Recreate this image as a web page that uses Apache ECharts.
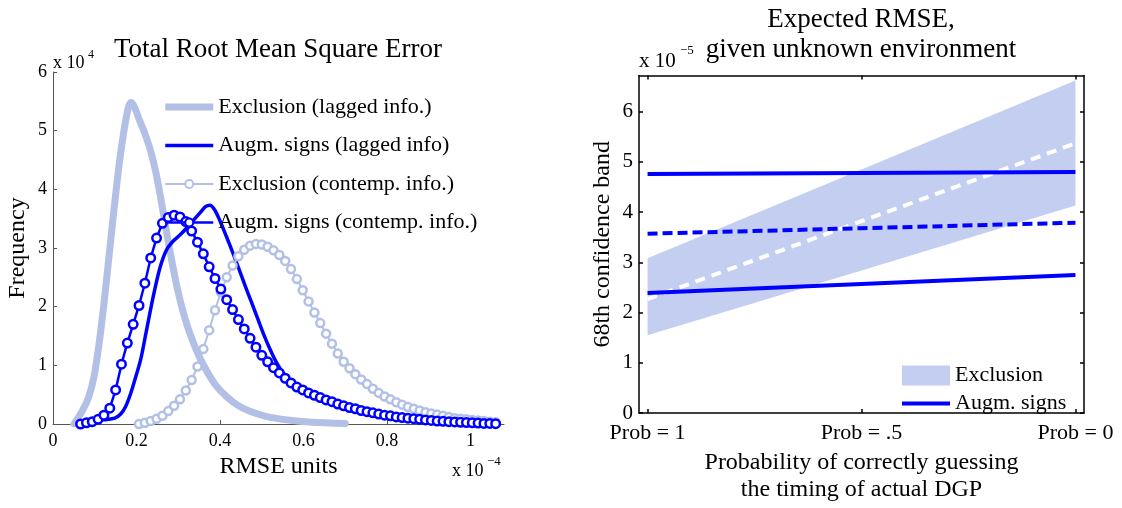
<!DOCTYPE html>
<html>
<head>
<meta charset="utf-8">
<title>RMSE distributions</title>
<script src="https://cdn.jsdelivr.net/npm/echarts@6.0.0/dist/echarts.min.js"></script>
<style>
  html, body { margin: 0; padding: 0; background: #fff; }
  #chart { width: 1122px; height: 508px; }
</style>
</head>
<body>
<div id="chart"></div>
<script>
// ---- left panel: frequency (x 1e4) of RMSE units (x 1e-4) ----
var rmseTicks = [0, 0.2, 0.4, 0.6, 0.8, 1];
var freqTicks = [0, 1, 2, 3, 4, 5, 6];

var exclLagX = [0.050,0.060,0.072,0.085,0.098,0.110,0.122,0.134,0.146,0.158,0.170,0.180,0.186,0.194,0.206,0.220,0.234,0.246,0.258,0.270,0.284,0.298,0.314,0.330,0.350,0.370,0.390,0.415,0.440,0.470,0.510,0.560,0.620,0.700];
var exclLagY = [0.00,0.10,0.25,0.45,0.80,1.35,2.05,2.85,3.65,4.40,5.00,5.38,5.48,5.42,5.20,4.95,4.65,4.30,3.85,3.35,2.80,2.30,1.85,1.50,1.15,0.88,0.66,0.47,0.33,0.22,0.13,0.07,0.03,0.01];

var augLagX = [0.057,0.090,0.120,0.148,0.162,0.174,0.186,0.198,0.210,0.224,0.240,0.256,0.272,0.288,0.304,0.320,0.336,0.352,0.366,0.376,0.388,0.400,0.415,0.430,0.445,0.460,0.475,0.490,0.505,0.520,0.535,0.550,0.565,0.585,0.620,0.670,0.730,0.790,0.850,0.910,0.980,1.050];
var augLagY = [0.00,0.03,0.07,0.10,0.17,0.30,0.52,0.80,1.10,1.60,2.17,2.66,2.97,3.12,3.22,3.34,3.47,3.60,3.71,3.73,3.64,3.46,3.20,2.93,2.65,2.36,2.08,1.80,1.52,1.27,1.05,0.88,0.76,0.64,0.50,0.37,0.25,0.16,0.10,0.06,0.03,0.01];

// x grid of the two marker curves (exclusion one starts at contempX[10])
var contempX = [0.066,0.080,0.094,0.108,0.122,0.136,0.150,0.164,0.178,0.192,
  0.206,0.220,0.234,0.248,0.262,0.276,0.290,0.304,0.318,0.332,
  0.346,0.360,0.374,0.388,0.402,0.416,0.430,0.444,0.458,0.472,
  0.486,0.500,0.514,0.528,0.542,0.556,0.570,0.584,0.598,0.612,
  0.626,0.640,0.654,0.668,0.682,0.696,0.710,0.724,0.738,0.752,
  0.766,0.780,0.794,0.808,0.822,0.836,0.850,0.864,0.878,0.892,
  0.906,0.920,0.934,0.948,0.962,0.976,0.990,1.004,1.018,1.032,
  1.046,1.060];
var augContempY = [0.00,0.02,0.04,0.08,0.15,0.27,0.58,1.02,1.38,1.70,
  2.02,2.40,2.83,3.17,3.42,3.52,3.56,3.53,3.45,3.29,
  3.10,2.90,2.68,2.48,2.30,2.12,1.95,1.78,1.62,1.46,
  1.31,1.17,1.06,0.96,0.87,0.78,0.70,0.63,0.58,0.53,
  0.49,0.45,0.41,0.38,0.34,0.31,0.28,0.26,0.23,0.21,
  0.19,0.17,0.15,0.14,0.12,0.11,0.10,0.09,0.08,0.07,
  0.06,0.05,0.045,0.04,0.035,0.03,0.025,0.02,0.015,0.01,
  0.01,0.005];
var exclContempY = [0.00,0.02,0.05,0.09,0.14,0.22,0.31,0.42,0.57,0.75,
  0.98,1.28,1.60,1.94,2.25,2.50,2.70,2.86,2.97,3.04,
  3.07,3.06,3.02,2.96,2.88,2.78,2.64,2.47,2.28,2.09,
  1.90,1.72,1.54,1.37,1.20,1.06,0.95,0.85,0.76,0.68,
  0.60,0.53,0.47,0.42,0.37,0.33,0.29,0.26,0.23,0.20,
  0.18,0.16,0.14,0.12,0.10,0.09,0.08,0.07,0.06,0.05,
  0.04,0.03];

// ---- right panel: 68th confidence band (x 1e-5) ----
var probLabels = ['Prob = 1', 'Prob = .5', 'Prob = 0'];
var probPos = [0, 0.5, 1];
var bandTicks = [0, 1, 2, 3, 4, 5, 6];
var exclLower = [1.55, 2.84, 4.13];
var exclUpper = [3.08, 4.85, 6.62];
var exclMean = [2.27, 3.82, 5.37];
var augLower = [2.39, 2.57, 2.75];
var augUpper = [4.76, 4.78, 4.80];
var augMean = [3.57, 3.68, 3.79];

var serif = "'Liberation Serif', 'Times New Roman', serif";
var lightBlue = '#b3c0e6';
var bandColor = '#c4cef1';
var blue = '#0000ff';

function zip(xs, ys) {
  return ys.map(function (y, i) { return [xs[i], y]; });
}

var myChart = echarts.init(document.getElementById('chart'));

// axis with inward ticks, no split lines; labels optional
function tickAxis(color, width, ticks, labelSize, margin, showLabel, formatter) {
  var label = { show: showLabel, customValues: ticks, margin: margin, color: '#000', fontFamily: serif, fontSize: labelSize };
  if (formatter) label.formatter = formatter;
  return {
    axisLine: { show: true, onZero: false, lineStyle: { color: color, width: width } },
    axisTick: { show: true, inside: true, length: 4, customValues: ticks, lineStyle: { color: color, width: width } },
    axisLabel: label,
    splitLine: { show: false }
  };
}

function probName(v) {
  var i = probPos.indexOf(v);
  return i >= 0 ? probLabels[i] : '';
}

var nameStyle = { color: '#000', fontFamily: serif, fontSize: 24, verticalAlign: 'middle' };

var option = {
  animation: false,
  backgroundColor: '#fff',
  title: [
    {
      text: 'Total Root Mean Square Error',
      left: 278, top: 36, textAlign: 'center', padding: 0,
      textStyle: { color: '#000', fontFamily: serif, fontSize: 27, fontWeight: 'normal' }
    },
    {
      text: 'Expected RMSE,\ngiven unknown environment',
      left: 861, top: 5, textAlign: 'center', padding: 0,
      textStyle: { color: '#000', fontFamily: serif, fontSize: 27, fontWeight: 'normal', lineHeight: 30 }
    }
  ],
  legend: [
    {
      orient: 'vertical', left: 164, top: 96, padding: 0,
      itemWidth: 48, itemHeight: 10, itemGap: 16.5,
      selectedMode: false,
      textStyle: { color: '#000', fontFamily: serif, fontSize: 22 },
      data: [
        { name: 'Exclusion (lagged info.)', icon: 'path://M0,0H48V7H0Z' },
        { name: 'Augm. signs (lagged info)', icon: 'path://M0,0H48V3.5H0Z' },
        { name: 'Exclusion (contemp. info.)', lineStyle: { width: 2 } },
        { name: 'Augm. signs (contemp. info.)', lineStyle: { width: 2.5 } }
      ]
    },
    {
      orient: 'vertical', left: 902, top: 364.5, padding: 0,
      itemWidth: 48, itemHeight: 20, itemGap: 6,
      selectedMode: false,
      textStyle: { color: '#000', fontFamily: serif, fontSize: 22 },
      data: [
        { name: 'Exclusion', icon: 'rect', itemStyle: { color: bandColor } },
        { name: 'Augm. signs', icon: 'path://M0,0H48V4H0Z' }
      ]
    }
  ],
  grid: [
    { left: 53, top: 72, width: 451, height: 352 },
    { left: 639, top: 75.5, width: 445, height: 348.5 }
  ],
  xAxis: [
    Object.assign({
      gridIndex: 0, type: 'value', min: 0, max: 1.08,
      name: 'RMSE units', nameLocation: 'middle', nameGap: 39, nameTextStyle: nameStyle
    }, tickAxis('#555', 1, rmseTicks, 18, 8, true)),
    Object.assign({
      gridIndex: 1, type: 'value', min: -0.02, max: 1.02,
      name: 'Probability of correctly guessing\nthe timing of actual DGP',
      nameLocation: 'middle', nameGap: 56,
      nameTextStyle: Object.assign({ lineHeight: 27 }, nameStyle)
    }, tickAxis('#000', 1.5, probPos, 22, 9, true, probName)),
    Object.assign({
      gridIndex: 1, type: 'value', min: -0.02, max: 1.02, position: 'top'
    }, tickAxis('#000', 1.5, probPos, 22, 9, false))
  ],
  yAxis: [
    Object.assign({
      gridIndex: 0, type: 'value', min: 0, max: 6,
      name: 'Frequency', nameLocation: 'middle', nameGap: 35, nameTextStyle: nameStyle
    }, tickAxis('#555', 1, freqTicks, 18, 6, true)),
    Object.assign({
      gridIndex: 1, type: 'value', min: 0, max: 6.72,
      name: '68th confidence band', nameLocation: 'middle', nameGap: 36, nameTextStyle: nameStyle
    }, tickAxis('#000', 1.5, bandTicks, 21, 6, true)),
    Object.assign({
      gridIndex: 1, type: 'value', min: 0, max: 6.72, position: 'right'
    }, tickAxis('#000', 1.5, bandTicks, 21, 6, false))
  ],
  series: [
    {
      name: 'Exclusion (lagged info.)', type: 'line', xAxisIndex: 0, yAxisIndex: 0,
      data: zip(exclLagX, exclLagY), symbol: 'none', smooth: 0.3,
      lineStyle: { color: lightBlue, width: 7, cap: 'round', join: 'round' },
      itemStyle: { color: lightBlue }
    },
    {
      name: 'Augm. signs (lagged info)', type: 'line', xAxisIndex: 0, yAxisIndex: 0,
      data: zip(augLagX, augLagY), symbol: 'none', smooth: 0.3,
      lineStyle: { color: blue, width: 3.5, join: 'round' },
      itemStyle: { color: blue }
    },
    {
      name: 'Exclusion (contemp. info.)', type: 'line', xAxisIndex: 0, yAxisIndex: 0,
      data: zip(contempX.slice(10), exclContempY),
      symbol: 'circle', symbolSize: 8, showAllSymbol: true,
      lineStyle: { color: lightBlue, width: 2 },
      itemStyle: { color: '#fff', borderColor: lightBlue, borderWidth: 2.5 }
    },
    {
      name: 'Augm. signs (contemp. info.)', type: 'line', xAxisIndex: 0, yAxisIndex: 0,
      data: zip(contempX, augContempY),
      symbol: 'circle', symbolSize: 8.5, showAllSymbol: true,
      lineStyle: { color: blue, width: 2.5 },
      itemStyle: { color: '#fff', borderColor: blue, borderWidth: 2.5 }
    },
    {
      name: 'Exclusion', type: 'custom', xAxisIndex: 1, yAxisIndex: 1,
      data: [[0]],
      itemStyle: { color: bandColor },
      renderItem: function (params, api) {
        var pts = [];
        for (var i = 0; i < probPos.length; i++) pts.push(api.coord([probPos[i], exclLower[i]]));
        for (var j = probPos.length - 1; j >= 0; j--) pts.push(api.coord([probPos[j], exclUpper[j]]));
        return { type: 'polygon', shape: { points: pts }, style: { fill: bandColor } };
      }
    },
    {
      name: 'Exclusion mean', type: 'line', xAxisIndex: 1, yAxisIndex: 1,
      data: zip(probPos, exclMean), symbol: 'none',
      lineStyle: { color: '#ffffff', width: 4, type: [10, 7] }
    },
    {
      name: 'Augm. signs', type: 'line', xAxisIndex: 1, yAxisIndex: 1,
      data: zip(probPos, augUpper), symbol: 'none',
      lineStyle: { color: blue, width: 4 }, itemStyle: { color: blue }
    },
    {
      name: 'Augm. signs', type: 'line', xAxisIndex: 1, yAxisIndex: 1,
      data: zip(probPos, augLower), symbol: 'none',
      lineStyle: { color: blue, width: 4 }, itemStyle: { color: blue }
    },
    {
      name: 'Augm. signs mean', type: 'line', xAxisIndex: 1, yAxisIndex: 1,
      data: zip(probPos, augMean), symbol: 'none',
      lineStyle: { color: blue, width: 4, type: [10, 5] }
    }
  ],
  graphic: [
    { type: 'text', left: 53, top: 54, style: { text: 'x 10', fill: '#000', font: '18px ' + serif } },
    { type: 'text', left: 88, top: 49, style: { text: '4', fill: '#000', font: '12px ' + serif } },
    { type: 'text', left: 452, top: 462, style: { text: 'x 10', fill: '#000', font: '18px ' + serif } },
    { type: 'text', left: 487, top: 455, style: { text: '\u22124', fill: '#000', font: '13px ' + serif } },
    { type: 'text', left: 639, top: 51, style: { text: 'x 10', fill: '#000', font: '21px ' + serif } },
    { type: 'text', left: 680, top: 44, style: { text: '\u22125', fill: '#000', font: '13px ' + serif } }
  ]
};

myChart.setOption(option);
window.addEventListener('resize', function () { myChart.resize(); });
</script>
</body>
</html>
